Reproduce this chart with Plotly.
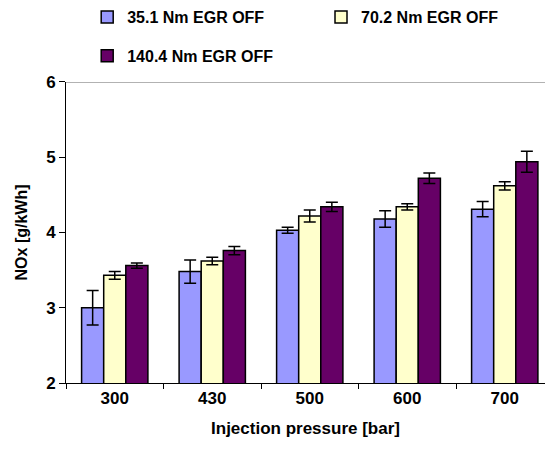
import plotly.graph_objects as go

categories = ["300", "430", "500", "600", "700"]
series_names = ["35.1 Nm EGR OFF", "70.2 Nm EGR OFF", "140.4 Nm EGR OFF"]
nox_35 = [3.00, 3.48, 4.03, 4.18, 4.31]
err_35 = [0.23, 0.155, 0.04, 0.11, 0.10]
nox_70 = [3.43, 3.62, 4.22, 4.34, 4.62]
err_70 = [0.05, 0.05, 0.08, 0.04, 0.055]
nox_140 = [3.56, 3.76, 4.34, 4.72, 4.94]
err_140 = [0.035, 0.055, 0.06, 0.07, 0.14]
colors = ["#9999FF", "#FFFFCC", "#660066"]

FONT = "Liberation Sans, Arial, sans-serif"

fig = go.Figure()
values = [nox_35, nox_70, nox_140]
errors = [err_35, err_70, err_140]
legends = ["legend", "legend2", "legend3"]
for name, v, e, c, lg in zip(series_names, values, errors, colors, legends):
    fig.add_trace(go.Bar(
        x=categories, y=v, name=name, showlegend=True,
        marker=dict(color=c, line=dict(color="black", width=1.5)),
        error_y=dict(type="data", array=e, visible=True, color="black", thickness=1.5, width=6),
        legend=lg,
    ))

fig.add_shape(type="line", xref="paper", yref="y", x0=0, x1=1, y0=6, y1=6,
              line=dict(color="#999999", width=1.5), layer="below")

legend_font = dict(family=FONT, size=16, color="black", weight="bold")
legend_pos = {"legend": (0.16, 1.0), "legend2": (0.589, 1.0), "legend3": (0.16, 0.914)}
legend_layouts = {
    k: dict(orientation="h", x=x, y=y, xref="container", yref="container",
            xanchor="left", yanchor="top", font=legend_font, bgcolor="rgba(0,0,0,0)")
    for k, (x, y) in legend_pos.items()
}

fig.update_layout(
    width=545, height=452,
    margin=dict(l=66, r=0, t=80, b=69),
    plot_bgcolor="white", paper_bgcolor="white",
    showlegend=True,
    barmode="group", bargap=0.32, bargroupgap=0,
    font=dict(family=FONT, size=16, color="black"),
    **legend_layouts,
    xaxis=dict(
        type="category", range=[-0.5, -0.5 + 479 / 97.5],
        showline=True, linecolor="black", linewidth=1,
        ticks="outside", ticklen=5, tickcolor="black", tickson="boundaries",
        tickfont=dict(family=FONT, size=17, color="black", weight="bold"),
        title=dict(text="Injection pressure [bar]", standoff=14,
                   font=dict(family=FONT, size=17, color="black", weight="bold")),
        showgrid=False,
    ),
    yaxis=dict(
        range=[2, 6], dtick=1, showgrid=False, zeroline=False,
        showline=True, linecolor="black", linewidth=1,
        ticks="outside", ticklen=6, tickcolor="black",
        tickfont=dict(family=FONT, size=17, color="black", weight="bold"),
        title=dict(text="NOx [g/kWh]", standoff=14,
                   font=dict(family=FONT, size=16, color="black", weight="bold")),
    ),
)

fig.write_html("out.html")
